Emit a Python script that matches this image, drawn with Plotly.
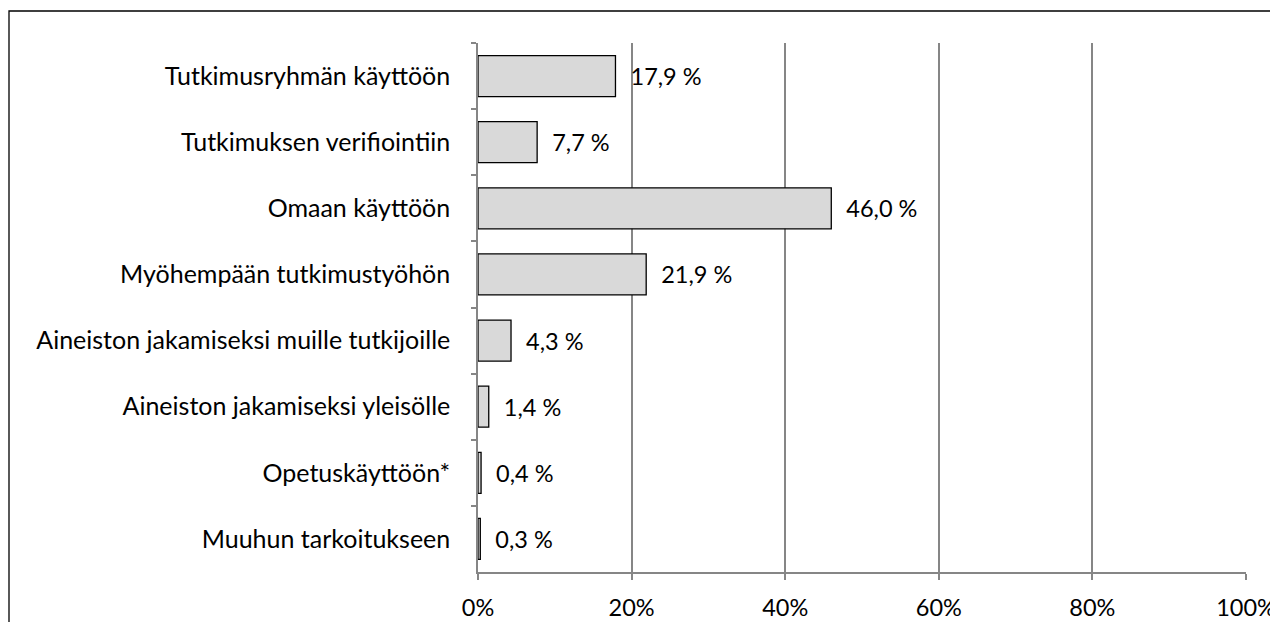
import plotly.graph_objects as go

categories = [
    "Tutkimusryhmän käyttöön",
    "Tutkimuksen verifiointiin",
    "Omaan käyttöön",
    "Myöhempään tutkimustyöhön",
    "Aineiston jakamiseksi muille tutkijoille",
    "Aineiston jakamiseksi yleisölle",
    "Opetuskäyttöön*",
    "Muuhun tarkoitukseen",
]
values = [17.9, 7.7, 46.0, 21.9, 4.3, 1.4, 0.4, 0.3]
value_labels = ["17,9 %", "7,7 %", "46,0 %", "21,9 %", "4,3 %", "1,4 %", "0,4 %", "0,3 %"]
tick_vals = [0, 20, 40, 60, 80, 100]
tick_text = ["0%", "20%", "40%", "60%", "80%", "100%"]

FONT = "Lato"
FS = 25
FS_NUM = 23.5
fig = go.Figure()
fig.add_trace(go.Bar(
    y=categories, x=values, orientation="h",
    marker=dict(color="#d9d9d9", line=dict(color="black", width=1.3)),
    width=0.62,
    text=["\u00a0\u00a0" + t for t in value_labels],
    textposition="outside",
    textfont=dict(family=FONT, size=FS_NUM, color="black"),
    cliponaxis=False,
    hoverinfo="skip",
))

# page has an 8px body margin; compensate so the plot lands where the reference has it
fig.update_layout(
    width=1278, height=622,
    margin=dict(l=470, r=40, t=35, b=58, autoexpand=False),
    paper_bgcolor="white", plot_bgcolor="white",
    showlegend=False,
    font=dict(family=FONT, size=FS, color="black"),
    shapes=[dict(type="rect", xref="paper", yref="paper",
                 x0=(9 - 478) / 768, x1=1.2, y0=-0.3, y1=(572 - 11) / 529,
                 line=dict(color="black", width=1.3), fillcolor="rgba(0,0,0,0)", layer="below")],
)
fig.update_xaxes(
    range=[0, 100], tickvals=tick_vals, ticktext=tick_text, automargin=False,
    showgrid=True, gridcolor="#868686", gridwidth=1.5,
    showline=True, linecolor="#868686", linewidth=1.5,
    ticks="outside", ticklen=6, tickcolor="#868686", tickwidth=1.5,
    ticklabelstandoff=8, zeroline=False,
    tickfont=dict(family=FONT, size=FS_NUM, color="black"),
)
fig.update_yaxes(
    autorange="reversed", automargin=False,
    showline=True, linecolor="#868686", linewidth=1.5,
    ticks="outside", ticklen=5, tickcolor="#868686", tickwidth=1.5,
    tickson="boundaries", ticklabelstandoff=21,
    tickfont=dict(family=FONT, size=FS, color="black"),
    showgrid=False,
)
fig.write_html("out.html")
